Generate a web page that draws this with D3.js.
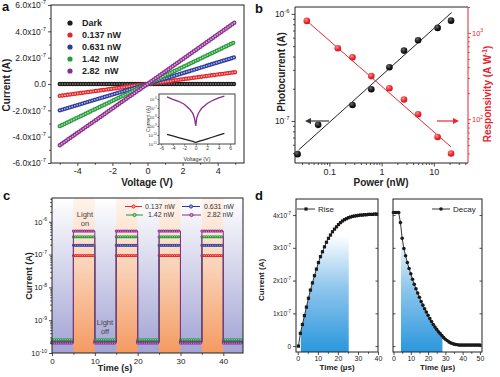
<!DOCTYPE html>
<html>
<head>
<meta charset="utf-8">
<script src="https://cdn.jsdelivr.net/npm/d3@7"></script>
<style>
  body { margin: 0; background: #fff; }
  svg { font-family: "Liberation Sans", Arial, sans-serif; }
</style>
</head>
<body>
<svg id="fig" width="500" height="377"></svg>
<script>
// ---------- data: panel a (I-V, current in units of 1e-7 A) ----------
var ivLabels = ["Dark", "0.137 nW", "0.631 nW", "1.42  nW", "2.82  nW"];
var ivColors = ["#1c1c1c", "#e3262b", "#2c3a9a", "#27993b", "#8a2d8e"];
var ivLight = ["#6b6b6b", "#f7a5a5", "#a9b1e8", "#9ddca7", "#d8a4d9"];
var ivVolt = [-5, 0, 5];
var ivCurrent = [
  [0, 0, 0],
  [-0.9, 0, 0.9],
  [-2.0, 0, 2.05],
  [-3.2, 0, 3.2],
  [-4.65, 0, 4.7]
];
// inset (log current)
var insetVolt = [-5, -4, -3, -2, -1, -0.5, -0.2, 0, 0.2, 0.5, 1, 2, 3, 4, 5];
var insetLight = [1.7e-6, 9.3e-7, 5.6e-7, 2.6e-7, 6.8e-8, 2.5e-8, 6.9e-9, 1.0e-9, 8.9e-9, 2.8e-8, 8.7e-8, 3.2e-7, 7.2e-7, 1.3e-6, 2.1e-6];
var insetDark = [1.2e-10, 7.9e-11, 5.2e-11, 3.5e-11, 2.3e-11, 1.9e-11, 1.6e-11, 1.5e-11, 1.65e-11, 1.9e-11, 2.4e-11, 3.8e-11, 6.0e-11, 9.5e-11, 1.5e-10];

// ---------- data: panel b ----------
var pcPower = [0.0246, 0.061, 0.277, 0.634, 1.41, 2.68, 4.99, 11.8, 21.3];
var photocurrent = [4.9e-8, 9.2e-8, 1.41e-7, 1.98e-7, 3.18e-7, 4.54e-7, 5.68e-7, 7.4e-7, 8.65e-7];
var respPower = [0.037, 0.145, 0.277, 0.634, 1.41, 2.68, 4.99, 11.8, 21.3];
var responsivity = [1380, 664, 521, 316, 228, 169, 114, 62, 40];
var pcFit = [[0.0258, 5.36e-8], [21.9, 1.03e-6]];
var respFit = [[0.037, 1380], [21.3, 47.7]];

// ---------- data: panel c ----------
var cLabels = ["0.137 nW", "0.631 nW", "1.42 nW", "2.82 nW"];
var cColors = ["#e8232b", "#2e3592", "#23963a", "#8c2b8c"];
var cLight = ["#f7a0a0", "#a3a9e6", "#93d9a0", "#d9a0d9"];
var onLevel = [9.3e-8, 1.94e-7, 3.5e-7, 5.2e-7];
var offLevel = [2.2e-10, 2.15e-10, 2.55e-10, 2.0e-10];
var onStart = [5, 15, 25, 35];
var onEnd = [10, 20, 30, 40];
var tStop = 44.6;

// ---------- data: panel d (current in units of 1e-7 A) ----------
var riseTime = [0.3, 1.3, 2.3, 3.3, 4.3, 5.3, 6.3, 7.3, 8.3, 9.3, 10.3, 11.3, 12.3, 13.3, 14.3, 15.3, 16.3, 17.3, 18.3, 19.3,
  20.3, 21.3, 22.3, 23.3, 24.3, 25.3, 26.3, 27.3, 28.3, 29.3, 30.3, 31.3, 32.3, 33.3, 34.3, 35.3, 36.3, 37.3, 38.3, 39.3];
var riseCurrent = [0, 0.39, 0.66, 0.93, 1.19, 1.46, 1.71, 1.93, 2.15, 2.35, 2.55, 2.73, 2.88, 3.03, 3.17, 3.29, 3.39, 3.49, 3.57, 3.64,
  3.71, 3.77, 3.82, 3.86, 3.89, 3.92, 3.94, 3.96, 3.97, 3.98, 3.99, 4.0, 4.0, 4.01, 4.01, 4.02, 4.02, 4.02, 4.03, 4.03];
var decayTime = [0, 1, 2, 3, 4, 5, 6, 7, 8, 9, 10, 11, 12, 13, 14, 15, 16, 17, 18, 19, 20, 21, 22, 23, 24, 25,
  26, 27, 28, 29, 30, 31, 32, 33, 34, 35, 36, 37, 38, 39, 40, 41, 42, 43, 44, 45, 46, 47, 48, 49, 50];
var decayCurrent = [4.08, 4.08, 4.08, 4.08, 3.77, 3.29, 2.98, 2.76, 2.55, 2.37, 2.21, 2.04, 1.89, 1.75, 1.62, 1.49, 1.36, 1.25,
  1.14, 1.04, 0.94, 0.84, 0.75, 0.66, 0.58, 0.51, 0.44, 0.38, 0.32, 0.26, 0.21, 0.17, 0.13, 0.10, 0.08, 0.06, 0.05, 0.04, 0.03,
  0.03, 0.03, 0.03, 0.03, 0.03, 0.03, 0.03, 0.03, 0.03, 0.03, 0.03, 0.03];
var riseShade = [1.5, 25.4];
var decayShade = [4.3, 28.3];

var INK = "#222";
var svg = d3.select("#fig");
var defs = svg.append("defs");

function isPow10(v) {
  var l = Math.log10(v);
  return Math.abs(l - Math.round(l)) < 1e-6;
}

function styleAxis(g, color, size) {
  g.select(".domain").remove();
  g.selectAll("line").attr("stroke", color).attr("stroke-width", 0.8);
  g.selectAll("text").attr("fill", color).attr("font-size", size)
    .attr("font-family", "'Liberation Sans', Arial, sans-serif");
}

// replace tick text with base + superscript
function powLabels(g, test, baseFn, expFn, size, anchor) {
  g.selectAll(".tick text").each(function (d) {
    var t = d3.select(this);
    t.text(null);
    if (anchor) t.attr("text-anchor", anchor);
    if (!test(d)) return;
    t.append("tspan").text(baseFn(d));
    t.append("tspan").attr("dy", -size * 0.45).attr("font-size", size * 0.68).text(expFn(d));
  });
}

function shortMinor(g, test, len, dir) {
  g.selectAll(".tick").filter(function (d) { return !test(d); })
    .select("line").attr(dir, len);
}

function frame(x0, y0, x1, y1, color) {
  svg.append("rect").attr("x", x0).attr("y", y0).attr("width", x1 - x0).attr("height", y1 - y0)
    .attr("fill", "none").attr("stroke", color || INK).attr("stroke-width", 1);
}

function panelLetter(txt, x, y) {
  svg.append("text").attr("x", x).attr("y", y).attr("font-size", 13).attr("font-weight", "bold")
    .attr("fill", "#111").text(txt);
}

function dottedPath(g, pts, xs, ys, color, light, outer, inner, gap) {
  var line = d3.line().x(function (d) { return xs(d[0]); }).y(function (d) { return ys(d[1]); });
  g.append("path").attr("d", line(pts)).attr("fill", "none").attr("stroke", color)
    .attr("stroke-width", outer).attr("stroke-linecap", "round").attr("stroke-dasharray", "0 " + gap);
  g.append("path").attr("d", line(pts)).attr("fill", "none").attr("stroke", light)
    .attr("stroke-width", inner).attr("stroke-linecap", "round").attr("stroke-dasharray", "0 " + gap);
}

// =================== panel a ===================
(function () {
  var x = d3.scaleLinear().domain([-5.5, 5.5]).range([51, 244]);
  var y = d3.scaleLinear().domain([-6, 6]).range([163, 5]);
  var g = svg.append("g");

  var yt = d3.range(-6, 6.01, 1);
  var gy = g.append("g").attr("transform", "translate(51,0)")
    .call(d3.axisLeft(y).tickValues(yt).tickSize(3).tickPadding(2).tickFormat(""));
  styleAxis(gy, INK, 8.5);
  var majY = function (d) { return Math.round(d) % 2 === 0; };
  powLabels(gy, majY, function (d) {
    return d === 0 ? "0.0" : d.toFixed(1) + "x10";
  }, function (d) { return d === 0 ? "" : "-7"; }, 8.5, "end");
  shortMinor(gy, majY, -1.8, "x2");

  var xt = d3.range(-5, 5.01, 1);
  var majX = function (d) { return Math.round(d) % 2 === 0; };
  var gx = g.append("g").attr("transform", "translate(0,163)")
    .call(d3.axisBottom(x).tickValues(xt).tickSize(3).tickPadding(2)
      .tickFormat(function (d) { return majX(d) ? String(d) : ""; }));
  styleAxis(gx, INK, 9);
  shortMinor(gx, majX, 1.8, "y2");
  frame(51, 5, 244, 163);

  ivCurrent.forEach(function (series, i) {
    var pts = ivVolt.map(function (v, k) { return [v, series[k]]; });
    dottedPath(g, pts, x, y, ivColors[i], ivLight[i], 4.4, 1.8, 2.6);
  });

  // legend
  ivLabels.forEach(function (lab, i) {
    var yy = 23 + i * 12;
    g.append("circle").attr("cx", 70).attr("cy", yy).attr("r", 2.6).attr("fill", ivColors[i]);
    g.append("text").attr("x", 82).attr("y", yy).attr("dy", "0.35em").attr("font-size", 9)
      .attr("font-weight", "bold").attr("fill", INK).attr("xml:space", "preserve").text(lab);
  });

  g.append("text").attr("transform", "translate(10,85) rotate(-90)").attr("text-anchor", "middle")
    .attr("font-size", 10).attr("font-weight", "bold").attr("fill", INK).text("Current (A)");
  g.append("text").attr("x", 147).attr("y", 186).attr("text-anchor", "middle")
    .attr("font-size", 10).attr("font-weight", "bold").attr("fill", INK).text("Voltage (V)");

  // inset
  var ix = d3.scaleLinear().domain([-6.4, 6.85]).range([159, 235]);
  var iy = d3.scaleLog().domain([1e-11, 3.6e-6]).range([144, 94]);
  g.append("rect").attr("x", 159).attr("y", 94).attr("width", 76).attr("height", 50).attr("fill", "#fff");
  var giy = g.append("g").attr("transform", "translate(159,0)")
    .call(d3.axisLeft(iy).tickValues([1e-11, 1e-10, 1e-9, 1e-8, 1e-7, 1e-6]).tickSize(1.5).tickPadding(0.8).tickFormat(""));
  styleAxis(giy, "#333", 4);
  powLabels(giy, function () { return true; }, function () { return "10"; },
    function (d) { return String(Math.round(Math.log10(d))); }, 4, "end");
  var gix = g.append("g").attr("transform", "translate(0,144)")
    .call(d3.axisBottom(ix).tickValues(d3.range(-6, 6.1, 2)).tickSize(1.5).tickPadding(1)
      .tickFormat(function (d) { return String(d); }));
  styleAxis(gix, "#333", 5);
  frame(159, 94, 235, 144, "#444");
  var il = d3.line().x(function (d) { return ix(d[0]); }).y(function (d) { return iy(d[1]); });
  g.append("path").attr("d", il(insetVolt.map(function (v, k) { return [v, insetDark[k]]; })))
    .attr("fill", "none").attr("stroke", "#222").attr("stroke-width", 1.3);
  g.append("path").attr("d", il(insetVolt.map(function (v, k) { return [v, insetLight[k]]; })))
    .attr("fill", "none").attr("stroke", "#8a2d8e").attr("stroke-width", 1.3);
  g.append("text").attr("transform", "translate(150,119) rotate(-90)").attr("text-anchor", "middle")
    .attr("font-size", 5.3).attr("fill", "#333").text("Current (A)");
  g.append("text").attr("x", 197).attr("y", 160.5).attr("text-anchor", "middle")
    .attr("font-size", 5.5).attr("fill", "#333").text("Voltage (V)");
})();

// =================== panel b ===================
(function () {
  var x = d3.scaleLog().domain([0.022, 45]).range([295, 468]);
  var yl = d3.scaleLog().domain([4.05e-8, 1.16e-6]).range([163, 7]);
  var yr = d3.scaleLog().domain([31, 2000]).range([163, 7]);
  var RED = "#e5262f";
  var g = svg.append("g");

  var gx = g.append("g").attr("transform", "translate(0,163)")
    .call(d3.axisBottom(x).tickValues(x.ticks()).tickSize(3.5).tickPadding(2)
      .tickFormat(function (d) { return isPow10(d) ? d3.format("~g")(d) : ""; }));
  styleAxis(gx, INK, 9);
  shortMinor(gx, isPow10, 2, "y2");

  var gl = g.append("g").attr("transform", "translate(295,0)")
    .call(d3.axisLeft(yl).tickValues(yl.ticks()).tickSize(3.5).tickPadding(2).tickFormat(""));
  styleAxis(gl, INK, 8.5);
  powLabels(gl, isPow10, function () { return "10"; },
    function (d) { return String(Math.round(Math.log10(d))); }, 8.5, "end");
  shortMinor(gl, isPow10, -2, "x2");

  var gr = g.append("g").attr("transform", "translate(468,0)")
    .call(d3.axisRight(yr).tickValues(yr.ticks()).tickSize(3).tickPadding(1).tickFormat(""));
  styleAxis(gr, RED, 7.5);
  powLabels(gr, isPow10, function () { return "10"; },
    function (d) { return String(Math.round(Math.log10(d))); }, 7.5, "start");
  shortMinor(gr, isPow10, 2, "x2");

  g.append("line").attr("x1", 295).attr("x2", 468).attr("y1", 7).attr("y2", 7).attr("stroke", INK);
  g.append("line").attr("x1", 295).attr("x2", 468).attr("y1", 163).attr("y2", 163).attr("stroke", INK);
  g.append("line").attr("x1", 295).attr("x2", 295).attr("y1", 7).attr("y2", 163).attr("stroke", INK);
  g.append("line").attr("x1", 468).attr("x2", 468).attr("y1", 7).attr("y2", 163).attr("stroke", RED);

  // sphere-like gradients
  var gb = defs.append("radialGradient").attr("id", "ballK").attr("cx", "38%").attr("cy", "32%").attr("r", "70%");
  gb.append("stop").attr("offset", "0%").attr("stop-color", "#6a6a6a");
  gb.append("stop").attr("offset", "60%").attr("stop-color", "#1a1a1a");
  gb.append("stop").attr("offset", "100%").attr("stop-color", "#000");
  var gr2 = defs.append("radialGradient").attr("id", "ballR").attr("cx", "38%").attr("cy", "32%").attr("r", "70%");
  gr2.append("stop").attr("offset", "0%").attr("stop-color", "#ff8a8a");
  gr2.append("stop").attr("offset", "60%").attr("stop-color", "#ea2a31");
  gr2.append("stop").attr("offset", "100%").attr("stop-color", "#d0101a");

  g.append("line").attr("x1", x(pcFit[0][0])).attr("y1", yl(pcFit[0][1]))
    .attr("x2", x(pcFit[1][0])).attr("y2", yl(pcFit[1][1])).attr("stroke", INK).attr("stroke-width", 1);
  g.append("line").attr("x1", x(respFit[0][0])).attr("y1", yr(respFit[0][1]))
    .attr("x2", x(respFit[1][0])).attr("y2", yr(respFit[1][1])).attr("stroke", RED).attr("stroke-width", 1);

  g.selectAll("circle.k").data(pcPower).enter().append("circle")
    .attr("cx", function (d) { return x(d); })
    .attr("cy", function (d, i) { return yl(photocurrent[i]); })
    .attr("r", 3.3).attr("fill", "url(#ballK)");
  g.selectAll("circle.r").data(respPower).enter().append("circle")
    .attr("cx", function (d) { return x(d); })
    .attr("cy", function (d, i) { return yr(responsivity[i]); })
    .attr("r", 3.3).attr("fill", "url(#ballR)");

  // arrows
  g.append("line").attr("x1", 329).attr("x2", 310).attr("y1", 121).attr("y2", 121).attr("stroke", "#333").attr("stroke-width", 1.2);
  g.append("path").attr("d", "M305,121 L311,118 L311,124 Z").attr("fill", "#333");
  g.append("line").attr("x1", 437).attr("x2", 454).attr("y1", 121).attr("y2", 121).attr("stroke", RED).attr("stroke-width", 1.2);
  g.append("path").attr("d", "M459,121 L453,118 L453,124 Z").attr("fill", RED);

  g.append("text").attr("transform", "translate(285,72) rotate(-90)").attr("text-anchor", "middle")
    .attr("font-size", 10).attr("font-weight", "bold").attr("fill", INK).text("Photocurrent (A)");
  var rt = g.append("text").attr("transform", "translate(491,94) rotate(-90)").attr("text-anchor", "middle")
    .attr("font-size", 10).attr("font-weight", "bold").attr("fill", RED);
  rt.append("tspan").text("Responsivity (A W");
  rt.append("tspan").attr("dy", -4).attr("font-size", 6.5).text("-1");
  rt.append("tspan").attr("dy", 4).text(")");
  g.append("text").attr("x", 381).attr("y", 186).attr("text-anchor", "middle")
    .attr("font-size", 10).attr("font-weight", "bold").attr("fill", INK).text("Power (nW)");
})();

// =================== panel c ===================
(function () {
  var x = d3.scaleLinear().domain([0, tStop]).range([52, 243]);
  var y = d3.scaleLog().domain([1e-10, 5.3e-6]).range([353, 198]);
  var g = svg.append("g");

  var bg = defs.append("linearGradient").attr("id", "cBg").attr("x1", 0).attr("x2", 0).attr("y1", 0).attr("y2", 1);
  bg.append("stop").attr("offset", "0%").attr("stop-color", "#ffffff");
  bg.append("stop").attr("offset", "100%").attr("stop-color", "#a2a3d4");
  var og = defs.append("linearGradient").attr("id", "cOn").attr("x1", 0).attr("x2", 0).attr("y1", 0).attr("y2", 1);
  og.append("stop").attr("offset", "0%").attr("stop-color", "#fff4ec");
  og.append("stop").attr("offset", "45%").attr("stop-color", "#f9d2b6");
  og.append("stop").attr("offset", "100%").attr("stop-color", "#f49a62");

  g.append("rect").attr("x", 52).attr("y", 198).attr("width", 191).attr("height", 155).attr("fill", "url(#cBg)");
  onStart.forEach(function (s, k) {
    g.append("rect").attr("x", x(s)).attr("y", 198).attr("width", x(onEnd[k]) - x(s)).attr("height", 155)
      .attr("fill", "url(#cOn)");
  });

  var line = d3.line().x(function (d) { return x(d[0]); }).y(function (d) { return y(d[1]); });
  onLevel.forEach(function (on, i) {
    var off = offLevel[i];
    var pts = [[0, off]];
    onStart.forEach(function (s, k) {
      pts.push([s, off], [s, on], [onEnd[k], on], [onEnd[k], off]);
    });
    pts.push([tStop, off]);
    g.append("path").attr("d", line(pts)).attr("fill", "none").attr("stroke", cColors[i]).attr("stroke-width", 1);
    for (var k = 0; k < pts.length - 1; k++) {
      if (pts[k][1] === pts[k + 1][1] && pts[k][0] !== pts[k + 1][0]) {
        dottedPath(g, [pts[k], pts[k + 1]], x, y, cColors[i], cLight[i], 3, 1.3, 2.2);
      }
    }
  });

  var gy = g.append("g").attr("transform", "translate(52,0)")
    .call(d3.axisLeft(y).tickValues(y.ticks()).tickSize(3).tickPadding(2).tickFormat(""));
  styleAxis(gy, INK, 7.5);
  powLabels(gy, isPow10, function () { return "10"; },
    function (d) { return String(Math.round(Math.log10(d))); }, 7.5, "end");
  shortMinor(gy, isPow10, -1.8, "x2");
  var gx = g.append("g").attr("transform", "translate(0,353)")
    .call(d3.axisBottom(x).tickValues(d3.range(0, 45, 5)).tickSize(3).tickPadding(2)
      .tickFormat(function (d) { return d % 10 === 0 ? String(d) : ""; }));
  styleAxis(gx, INK, 8);
  shortMinor(gx, function (d) { return d % 10 === 0; }, 1.8, "y2");
  frame(52, 198, 243, 353);

  // legend: [line x0, line x1, text x, y]
  var legPos = [[125, 142, 145, 206.5], [182, 200, 204, 206.5], [126, 143, 148, 215], [182, 201, 207, 215]];
  cLabels.forEach(function (lab, i) {
    var p = legPos[i];
    g.append("line").attr("x1", p[0]).attr("x2", p[1]).attr("y1", p[3]).attr("y2", p[3])
      .attr("stroke", cColors[i]).attr("stroke-width", 1);
    g.append("circle").attr("cx", (p[0] + p[1]) / 2).attr("cy", p[3]).attr("r", 1.6)
      .attr("fill", cLight[i]).attr("stroke", cColors[i]).attr("stroke-width", 1);
    g.append("text").attr("x", p[2]).attr("y", p[3]).attr("dy", "0.35em")
      .attr("font-size", 7).attr("fill", "#333").text(lab);
  });

  [["Light", 85, 217], ["on", 85, 226], ["Light", 105, 325], ["off", 105, 334]].forEach(function (t) {
    g.append("text").attr("x", t[1]).attr("y", t[2]).attr("text-anchor", "middle")
      .attr("font-size", 7.5).attr("fill", "#444").text(t[0]);
  });

  g.append("text").attr("transform", "translate(32,276) rotate(-90)").attr("text-anchor", "middle")
    .attr("font-size", 9).attr("font-weight", "bold").attr("fill", INK).text("Current (A)");
  g.append("text").attr("x", 115).attr("y", 371).attr("text-anchor", "middle")
    .attr("font-size", 9).attr("font-weight", "bold").attr("fill", INK).text("Time (s)");
})();

// =================== panel d ===================
(function () {
  var y = d3.scaleLinear().domain([-0.18, 4.49]).range([352, 199]);
  var xr = d3.scaleLinear().domain([-0.9, 40]).range([296, 378]);
  var xd = d3.scaleLinear().domain([-0.3, 51.2]).range([393, 482]);
  var g = svg.append("g");

  var sg = defs.append("linearGradient").attr("id", "dShade").attr("gradientUnits", "userSpaceOnUse")
    .attr("x1", 0).attr("x2", 0).attr("y1", 352).attr("y2", 235);
  sg.append("stop").attr("offset", "0%").attr("stop-color", "#2b97dd");
  sg.append("stop").attr("offset", "55%").attr("stop-color", "#8fc6ec");
  sg.append("stop").attr("offset", "100%").attr("stop-color", "#ffffff");

  function subplot(xs, times, currents, shade, id, marker, legendX, legendText, showYLabels) {
    var x0 = xs.range()[0], x1 = xs.range()[1];
    defs.append("clipPath").attr("id", id).append("rect")
      .attr("x", xs(shade[0])).attr("y", 199).attr("width", xs(shade[1]) - xs(shade[0])).attr("height", 153);
    var pts = times.map(function (t, k) { return [t, currents[k]]; });
    var area = d3.area().x(function (d) { return xs(d[0]); }).y0(352).y1(function (d) { return y(d[1]); });
    g.append("path").attr("d", area(pts)).attr("fill", "url(#dShade)").attr("clip-path", "url(#" + id + ")");

    var ticksY = [0, 1, 2, 3, 4];
    var gy = g.append("g").attr("transform", "translate(" + x0 + ",0)")
      .call((showYLabels ? d3.axisLeft(y).tickSize(3) : d3.axisRight(y).tickSize(2.5))
        .tickValues(ticksY).tickPadding(2).tickFormat(""));
    styleAxis(gy, INK, 6.5);
    if (showYLabels) {
      powLabels(gy, function () { return true; }, function (d) { return d === 0 ? "0" : d + "x10"; },
        function (d) { return d === 0 ? "" : "-7"; }, 6.5, "end");
    }
    var gy2 = g.append("g").attr("transform", "translate(" + x1 + ",0)")
      .call(d3.axisLeft(y).tickValues(ticksY).tickSize(2.5).tickFormat(""));
    styleAxis(gy2, INK, 6.5);

    var xmax = xs.domain()[1];
    var gx = g.append("g").attr("transform", "translate(0,352)")
      .call(d3.axisBottom(xs).tickValues(d3.range(0, xmax + 0.01, 5)).tickSize(3).tickPadding(1.5)
        .tickFormat(function (d) { return d % 10 === 0 ? String(d) : ""; }));
    styleAxis(gx, INK, 7);
    shortMinor(gx, function (d) { return d % 10 === 0; }, 1.8, "y2");
    frame(x0, 199, x1, 352);

    var line = d3.line().x(function (d) { return xs(d[0]); }).y(function (d) { return y(d[1]); });
    g.append("path").attr("d", line(pts)).attr("fill", "none").attr("stroke", INK).attr("stroke-width", 0.9);
    if (marker === "square") {
      g.selectAll("rect.m" + id).data(pts).enter().append("rect")
        .attr("x", function (d) { return xs(d[0]) - 1.6; }).attr("y", function (d) { return y(d[1]) - 1.6; })
        .attr("width", 3.2).attr("height", 3.2).attr("fill", "#1a1a1a");
    } else {
      g.selectAll("circle.m" + id).data(pts).enter().append("circle")
        .attr("cx", function (d) { return xs(d[0]); }).attr("cy", function (d) { return y(d[1]); })
        .attr("r", 1.8).attr("fill", "#1a1a1a");
    }

    // legend
    g.append("line").attr("x1", legendX).attr("x2", legendX + 18).attr("y1", 209).attr("y2", 209)
      .attr("stroke", INK).attr("stroke-width", 0.9);
    if (marker === "square") {
      g.append("rect").attr("x", legendX + 7.4).attr("y", 207.4).attr("width", 3.2).attr("height", 3.2).attr("fill", "#1a1a1a");
    } else {
      g.append("circle").attr("cx", legendX + 9).attr("cy", 209).attr("r", 1.8).attr("fill", "#1a1a1a");
    }
    g.append("text").attr("x", legendX + 21).attr("y", 209).attr("dy", "0.35em").attr("font-size", 8)
      .attr("fill", INK).text(legendText);

    g.append("text").attr("x", (x0 + x1) / 2).attr("y", 370).attr("text-anchor", "middle")
      .attr("font-size", 8).attr("font-weight", "bold").attr("fill", INK).text("Time (\u00b5s)");
  }

  subplot(xr, riseTime, riseCurrent, riseShade, "clipRise", "square", 297, "Rise", true);
  subplot(xd, decayTime, decayCurrent, decayShade, "clipDecay", "circle", 432, "Decay", false);

  g.append("text").attr("transform", "translate(264,280) rotate(-90)").attr("text-anchor", "middle")
    .attr("font-size", 8).attr("font-weight", "bold").attr("fill", INK).text("Current (A)");
})();

panelLetter("a", 2, 11);
panelLetter("b", 255, 13);
panelLetter("c", 3, 200);
panelLetter("d", 255, 200);
</script>
</body>
</html>
